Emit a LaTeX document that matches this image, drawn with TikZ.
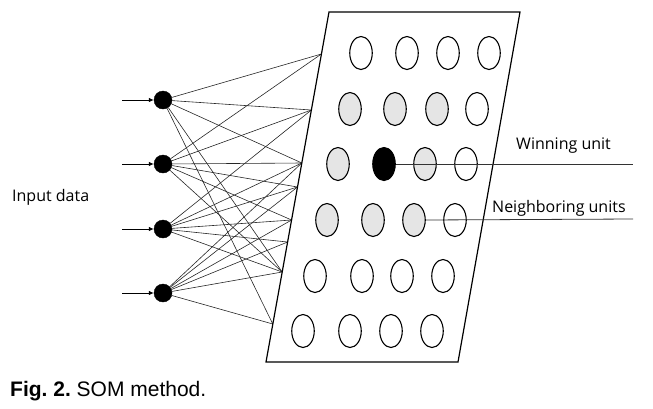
\documentclass[tikz,border=0pt]{standalone}
\usepackage{fontspec}
\setmainfont{Open Sans}
\newfontfamily\capfont{Liberation Sans}
\usetikzlibrary{arrows.meta,shapes.geometric}
\begin{document}
\begin{tikzpicture}[x=1pt,y=-1pt,
  inp/.style={circle,fill=black,draw=black,inner sep=0pt,minimum size=18pt},
  unit/.style={ellipse,draw=black,line width=1.1pt,inner sep=0pt,minimum width=22.5pt,minimum height=33pt,fill=white},
  grey/.style={unit,fill=black!10},
  win/.style={unit,fill=black},
  wire/.style={line width=0.6pt,black!85},
  lbl/.style={font=\fontsize{16}{18}\selectfont,anchor=base west,inner sep=0pt},
  feed/.style={line width=0.8pt,-{Latex[length=5pt,width=4.5pt]}}
]
\useasboundingbox (0,0) rectangle (653,408);

% input nodes
\node[inp] (n1) at (163,100) {};
\node[inp] (n2) at (163,164) {};
\node[inp] (n3) at (163,229) {};
\node[inp] (n4) at (163,293) {};
\coordinate (a1) at (122,100);
\coordinate (a2) at (122,164);
\coordinate (a3) at (122,229);
\coordinate (a4) at (122,293);
\foreach \i in {1,2,3,4} \draw[feed] (a\i) -- (n\i);

% connection points on the map's left edge
\coordinate (p1) at (321.4,54);
\coordinate (p2) at (311.4,110);
\coordinate (p3) at (301.8,163);
\coordinate (p4) at (297.5,187);
\coordinate (p5) at (291.6,220);
\coordinate (p6) at (287.6,242);
\coordinate (p7) at (282.2,272);
\coordinate (p8) at (272.8,324);

\foreach \p in {1,2,3,7,8} \draw[wire] (n1) -- (p\p);
\foreach \p in {1,2,3,4,5,7} \draw[wire] (n2) -- (p\p);
\foreach \p in {2,3,4,5,6,7} \draw[wire] (n3) -- (p\p);
\foreach \p in {3,4,5,6,7,8} \draw[wire] (n4) -- (p\p);

% map
\draw[line width=1.2pt] (329,12) coordinate (m1) -- (520,12) coordinate (m2)
  -- (458,362) coordinate (m3) -- (266,362) coordinate (m4) -- cycle;

% units
\node[unit] (u11) at (361,53) {};
\node[unit] (u12) at (407,53) {};
\node[unit] (u13) at (448,53) {};
\node[unit] (u14) at (489,53) {};
\node[grey] (u21) at (350,109) {};
\node[grey] (u22) at (395,109) {};
\node[grey] (u23) at (437,109) {};
\node[unit] (u24) at (477,109) {};
\node[grey] (u31) at (338,164) {};
\node[win]  (u32) at (384,164) {};
\node[grey] (u33) at (425,164) {};
\node[unit] (u34) at (466,164) {};
\node[grey] (u41) at (327,220) {};
\node[grey] (u42) at (373,220) {};
\node[grey] (u43) at (414,220) {};
\node[unit] (u44) at (455,220) {};
\node[unit] (u51) at (315,276) {};
\node[unit] (u52) at (362,276) {};
\node[unit] (u53) at (402,276) {};
\node[unit] (u54) at (443,276) {};
\node[unit] (u61) at (303,331) {};
\node[unit] (u62) at (350,331) {};
\node[unit] (u63) at (391,331) {};
\node[unit] (u64) at (432,331) {};

% label lines
\coordinate (w) at (633,164);
\coordinate (nb) at (633,219);
\draw[line width=0.8pt,black!80] (u32.east) -- (w);
\draw[line width=0.8pt,black!80] (u43.east) -- (nb);

% texts
\node[lbl] (tw) at (516,149) {Winning unit};
\node[lbl] (tn) at (492,212) {Neighboring units};
\node[lbl] (ti) at (12,201) {Input data};
\node[anchor=base west,inner sep=0pt,font=\capfont\fontsize{21}{23}\selectfont] (cap) at (10,396)
  {\textbf{Fig.\ 2.}\ SOM\ method.};
\end{tikzpicture}
\end{document}
